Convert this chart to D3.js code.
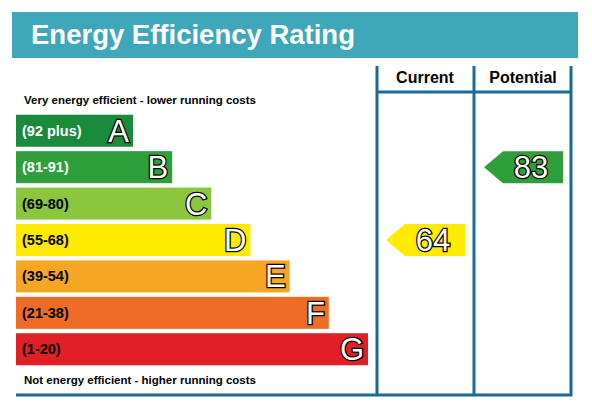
<!DOCTYPE html><html><head><meta charset="utf-8">
<script src="https://cdn.jsdelivr.net/npm/d3@7"></script>
<style>body{margin:0;background:#fff}</style></head><body><svg id="c" width="592" height="410"></svg>
<script>
const bands=["A","B","C","D","E","F","G"];
const ranges=["(92 plus)","(81-91)","(69-80)","(55-68)","(39-54)","(21-38)","(1-20)"];
const lows=[92,81,69,55,39,21,1];
const colors=["#1a8a3c","#2e9f3a","#8cc63f","#ffea00","#f5a623","#ee6c26","#e01f26"];
const currentValue=64, potentialValue=83;
const svg=d3.select("#c"), F="Arial, 'Liberation Sans', sans-serif";
svg.append("rect").attr("x",12).attr("y",12).attr("width",566).attr("height",46).attr("fill","#3ea7b9");
svg.append("text").attr("x",31).attr("y",44).attr("fill","#fff").attr("font-family",F).attr("font-weight","bold").attr("font-size",27.5).text("Energy Efficiency Rating");
const y=d3.scaleBand().domain(bands).range([114,366]).paddingInner(0.12).paddingOuter(0.02);
const w=d3.scaleLinear().domain([0,6]).range([117,352]);
const g=svg.append("g");
bands.forEach((b,i)=>{
  g.append("rect").attr("x",16).attr("y",y(b)).attr("width",w(i)).attr("height",y.bandwidth()).attr("fill",colors[i]);
  g.append("text").attr("x",22).attr("y",y(b)+y.bandwidth()/2+5).attr("font-family",F).attr("font-weight","bold").attr("font-size",14.5)
   .attr("fill",i>=2?"#000":"#fff").text(ranges[i]);
  g.append("text").attr("x",16+w(i)-4).attr("y",y(b)+y.bandwidth()/2+11).attr("text-anchor","end").attr("font-family",F).attr("font-size",31)
   .attr("fill","#fff").attr("stroke","#000").attr("stroke-width",2.5).attr("paint-order","stroke").text(b);
});
svg.append("text").attr("x",24).attr("y",104).attr("font-family",F).attr("font-weight","bold").attr("font-size",11.5).text("Very energy efficient - lower running costs");
svg.append("text").attr("x",24).attr("y",384).attr("font-family",F).attr("font-weight","bold").attr("font-size",11.5).text("Not energy efficient - higher running costs");
const blue="#1b6a99";
[377,474,571].forEach(x=>svg.append("line").attr("x1",x).attr("x2",x).attr("y1",66).attr("y2",396).attr("stroke",blue).attr("stroke-width",3));
svg.append("line").attr("x1",377).attr("x2",571).attr("y1",92).attr("y2",92).attr("stroke",blue).attr("stroke-width",3);
svg.append("line").attr("x1",16).attr("x2",572).attr("y1",395).attr("y2",395).attr("stroke",blue).attr("stroke-width",3);
svg.append("text").attr("x",425).attr("y",83).attr("text-anchor","middle").attr("font-family",F).attr("font-weight","bold").attr("font-size",16).text("Current");
svg.append("text").attr("x",523).attr("y",83).attr("text-anchor","middle").attr("font-family",F).attr("font-weight","bold").attr("font-size",16).text("Potential");
function band(v){return bands[lows.findIndex(l=>v>=l)];}
function arrow(v,x0){
  const b=band(v), i=bands.indexOf(b), t=y(b), h=y.bandwidth(), m=t+h/2;
  svg.append("path").attr("d",`M${x0},${m}L${x0+19},${t}H${x0+79}V${t+h}H${x0+19}Z`).attr("fill",colors[i]);
  svg.append("text").attr("x",x0+47).attr("y",m+11).attr("text-anchor","middle").attr("font-family",F).attr("font-size",31)
   .attr("fill","#fff").attr("stroke","#000").attr("stroke-width",2.5).attr("paint-order","stroke").text(v);
}
arrow(currentValue,386);
arrow(potentialValue,484);
</script></body></html>
